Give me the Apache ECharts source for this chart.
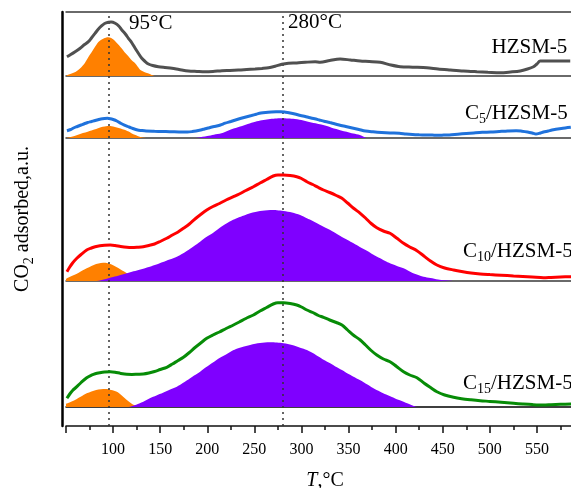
<!DOCTYPE html>
<html><head><meta charset="utf-8">
<script src="https://cdn.jsdelivr.net/npm/echarts@6/dist/echarts.min.js"></script>
<style>html,body{margin:0;padding:0;background:#fff}#c{width:571px;height:488px}</style>
</head><body><div id="c"></div>
<script>
// x range and ticks
const xMin = 50, xMax = 600, xStep = 50;
const peakTemps = [95, 280];
const panelNames = ['HZSM-5', 'C5/HZSM-5', 'C10/HZSM-5', 'C15/HZSM-5'];
// panel y ranges (signal units, arbitrary)
const panelMax = [64, 62, 143, 126];

// HZSM-5
const hzsmLine = [[51,19.3],[55,21.5],[59.7,24.3],[65,27.7],[69,31],[73.8,34.3],[77,38],[80.9,42.7],[84,46.5],[88,50.3],[91,52.5],[95,53.7],[98,54],[102.2,52.7],[106,50],[109.3,46],[113,42],[116.3,37.7],[120,33],[123.4,27.7],[127,22.5],[130.5,17.7],[134,14.5],[137.5,12],[142,10.5],[148.2,9.3],[155,8.5],[162.4,7.7],[170,6.5],[180,5],[189,4.6],[197.7,4.3],[206,4.6],[215.5,5.3],[224,5.6],[233,6],[242,6.4],[250.8,7],[258,7.6],[265,8.3],[272,9.8],[279.2,11.7],[286.2,12.7],[295,13],[304,13.7],[314.6,14.3],[319.9,13.7],[330,15.5],[341.1,17],[352,16],[362.4,15],[372,14.5],[383.6,13.7],[395,11],[404.9,9.3],[418,8.8],[433.2,8.3],[445,7],[458,6],[472,5],[486.3,4.3],[498,3.8],[511,3.3],[522,4],[532.3,5],[540,7],[546.4,9.3],[550,12],[553.5,15],[570,15],[585.4,15]];
const hzsmLow = [[50,0],[51.5,1],[56,2.5],[60,4],[63,6],[66,8.5],[70,13],[73.8,19],[78,25],[81,29.5],[84.4,34],[87,36],[90,37.5],[94.7,38.7],[98,38],[101,36],[104,33],[106.5,30.5],[109,27.7],[112,24],[116,20],[119,16.5],[123.4,12.7],[126,9.5],[129,6],[133,4],[137,2.7],[141,1],[144.6,0]];

// C5/HZSM-5
const c5Line = [[51,7.3],[55,8.5],[58,10],[62,11.5],[66,13],[70,14.5],[73,15.5],[77,16.5],[80,17.3],[84,18.3],[87,19],[91,19.5],[94,19.7],[97,19.3],[100,18.5],[104,17],[108,14.7],[112,12.8],[117,11],[121,9.5],[126,8],[130,7.5],[135,7],[144,6.7],[152,6.5],[160,6.3],[170,6.1],[179,6],[184,6.4],[188,7],[193,8],[197,9],[201,10],[205,11],[210,12],[214,13],[219,14.8],[225,16.5],[230,18],[236,19.7],[241,21],[247,22.5],[252,23.8],[257,25],[262,25.6],[268,26],[273,26.2],[278,26.3],[283,25.8],[288,25],[293,24],[299,22.5],[304,21.5],[308,20.5],[314,19.2],[319,18],[324,16.8],[330,15.5],[335,14.2],[340,13],[347,11.5],[354,10],[361,8.5],[368,7],[376,6.2],[385,5.5],[394,5],[404,4.7],[411,4],[418,3.5],[425,3.2],[432,3],[439,2.9],[445,2.8],[451,2.9],[457,3],[466,3.8],[475,4.5],[483,5.1],[492,5.7],[501,6],[510,6.5],[519,7],[528,7.3],[534,6.8],[540,6],[545,5],[549,4],[553,4.8],[557,6],[562,7],[566,8],[576,9.5],[586,10.7]];
const c5Low = [[50,0],[55,1],[59,2],[62,3],[65,4],[68,5],[73,6.3],[77,7.5],[80,8.5],[84,9.8],[87,10.8],[91,11.6],[94,12],[97,11.9],[100,11.5],[104,10.6],[108,9.5],[112,8.2],[115,7],[118,5.8],[120,4.5],[123,3.2],[126,2],[129,1.1],[133,0.3],[136,0]];
const c5High = [[186,0],[190,0.3],[195,1.2],[200,2],[207,3.3],[215,4.7],[220,6.5],[225,8.5],[231,10.3],[237,12],[243,14],[251,16.3],[258,17.8],[265,18.7],[272,19.4],[279,19.7],[286,19.5],[293,19],[298,18.2],[306,16.6],[315,14.7],[321,13.4],[327,12],[332,10.3],[337,9],[342,7.6],[348,6.3],[355,4.5],[362,3],[366,1.3],[369,0]];

// C10/HZSM-5
const c10Line = [[51,9.3],[54,14],[57,18],[61.5,22.7],[66,26.5],[72,31],[77,33],[81,34.3],[86,35.3],[91,35.8],[97,36],[102,35.5],[108,34.5],[114.6,33.7],[120,33.5],[126,33.8],[132,34.3],[138,35.5],[144,37],[150,39.5],[157,42.7],[163,46],[169,49],[174.7,52.7],[181,57],[187,62],[193,66.5],[199.5,71],[206,74.5],[213,77.5],[220,81],[227.8,84.3],[234,87],[241,90.5],[249,94.3],[256,98],[263,101.5],[270,105],[275,106],[281,106],[288,105.5],[295,104.3],[300,102.5],[305.8,99.3],[312,96.5],[318,93.5],[323.4,91],[330,88.5],[337,85.5],[343,82.7],[349,78],[355,73],[362.4,67.7],[368,63],[374,57.5],[380,53.3],[387,50],[394,47.7],[401,43],[408.4,37.7],[415,34],[422.6,30.3],[430,25],[437,20],[443.8,16],[452,13],[461.5,11],[470,9.5],[480,8],[489.8,7],[500,6.4],[512,5.8],[525.2,5],[535,4.5],[545,4],[557,3.3],[565,3.6],[575,4],[586.5,4.3]];
const c10Low = [[50,2],[51.5,3],[56,5],[61,7],[66,9.8],[72,12.7],[77,15],[82,17],[87,18],[92,18.3],[97,17],[103,14.3],[108,11.5],[114.6,7.7],[118,5],[122,3],[125,1.5],[128,0.5],[132,0]];
const c10High = [[83,0],[90,1.5],[100,4],[107,5.8],[114.6,7.7],[120,9.2],[127,11],[133,12.6],[139,14.3],[146,16.5],[153,19],[160,21.5],[167.7,24.3],[174,27.5],[180,31],[186,35],[192.4,39.3],[199,44],[206,48],[213,53],[220.8,57.7],[226,60.5],[232,63],[239,65.5],[245.5,67.7],[251,69],[256,70],[261,70.6],[266.8,71],[274,70.8],[281,70],[290,68.5],[298.6,66],[305.8,62.7],[312,60],[318,57],[324,54],[330.5,51],[336,48],[343,44],[349,41],[355.3,37.7],[362,34],[370,30],[376,26.5],[383.6,22.7],[390,19.5],[396,17],[402,14.8],[408.4,12.7],[413,10.5],[418,8],[424,6],[429.6,4.3],[437,3],[445,1.5],[452,0.7],[461.5,0]];

// C15/HZSM-5
const c15Line = [[51,8.7],[54,13],[57,16.5],[61.5,20.3],[66,24.5],[72,29.3],[77,31.8],[81,33.3],[86,34.3],[91,35],[97,35.3],[102,34.8],[108,33.6],[114.6,32.7],[120,32.6],[126,32.8],[132,33],[138,34],[144,35.5],[150,37.5],[157,39.7],[163,43],[169,46.5],[174.7,49.7],[181,54.5],[187,59.5],[193,64],[199.5,68.7],[206,72],[213,75],[220,78.5],[227.8,82],[234,85],[241,88.5],[249,92],[256,96],[263,99.5],[270,103],[275,104.3],[281,104.3],[288,103.5],[295,102],[300,100],[305.8,97],[312,94.5],[318,91.5],[323.4,89.7],[330,87],[337,84.5],[343,82],[349,77],[355,72],[362.4,67],[368,62],[374,56.5],[380,52],[387,48],[394,45.3],[401,40.5],[408.4,35.3],[415,32],[422.6,29.3],[430,24],[437,19.5],[443.8,15.3],[452,12],[461.5,9.7],[470,8.3],[480,7.2],[489.8,6.3],[500,5.6],[512,4.7],[525.2,3.7],[535,3],[545,2.4],[557,2],[565,2.3],[575,2.7],[586.5,3]];
const c15Low = [[50,3],[51.5,3.7],[56,5.5],[61,7.8],[66,10.5],[72,13.7],[77,15.6],[82,17],[87,17.7],[92,18],[98,17],[104,15.3],[108,12.5],[111,10],[114.6,7],[118,4.5],[121,2.5],[125,1],[130,0]];
const c15High = [[117,0],[122,1.5],[127,3.3],[133,5.8],[139,8.7],[146,11.5],[153,14.2],[160,17.2],[167.7,20.3],[174,24],[180,27.5],[186,31.5],[192.4,35.3],[199,40],[206,44.5],[213,49],[220.8,53],[226,56],[232,58.5],[239,60.5],[245.5,62],[251,63.3],[256,64],[261,64.5],[266.8,64.7],[274,64.4],[281,63.7],[290,62],[298.6,59.3],[305.8,57],[312,54],[318,50.5],[324,47],[330.5,43.7],[336,40.5],[343,37],[349,33.5],[355.3,30.3],[362,27],[370,22.5],[376,19],[383.6,15.3],[390,12.5],[396,10],[402,7.5],[408.4,5.3],[413,3.5],[418,1.5],[422.6,0]];

const lineColors = ['#505050', '#1f72dc', '#ff0000', '#078c07'];
const lowColor = '#ff8000';
const highColor = '#7f00ff';
const serif = 'Liberation Serif';

const lines = [hzsmLine, c5Line, c10Line, c15Line];
const lows = [hzsmLow, c5Low, c10Low, c15Low];
const highs = [null, c5High, c10High, c15High];

const panelTops = [12, 76, 138, 281];
const panelHeights = [64, 62, 143, 126];
const gLeft = 66, gWidth = 518;

const grids = panelTops.map((t, i) => ({left: gLeft, width: gWidth, top: t, height: panelHeights[i], outerBoundsMode: 'none', containLabel: false}));
grids.push({left: gLeft, width: gWidth, top: 12, height: 414, outerBoundsMode: 'none', containLabel: false});

const xAxes = [0,1,2,3].map(i => ({
  gridIndex: i, type: 'value', min: xMin, max: xMax,
  axisLine: {show: true, onZero: false, lineStyle: {color: i === 3 ? '#000' : '#3a3a3a', width: 1.5}},
  axisTick: {show: false}, axisLabel: {show: false}, splitLine: {show: false}
}));
xAxes.push({
  gridIndex: 4, type: 'value', min: xMin, max: xMax, interval: xStep, position: 'bottom',
  axisLine: {show: true, onZero: false, lineStyle: {color: '#111', width: 1.5}},
  axisTick: {show: true, length: 7, lineStyle: {color: '#111', width: 1.5}},
  minorTick: {show: true, splitNumber: 2, length: 4, lineStyle: {color: '#111', width: 1.5}},
  axisLabel: {show: true, showMinLabel: false, showMaxLabel: false, margin: 16, fontFamily: serif, fontSize: 16, color: '#000'},
  splitLine: {show: false},
  name: '{i|T},°C', nameLocation: 'middle', nameGap: 45,
  nameTextStyle: {fontFamily: serif, fontSize: 20, color: '#000', rich: {i: {fontFamily: serif, fontSize: 20, fontStyle: 'italic', color: '#000'}}}
});
xAxes.push({
  gridIndex: 4, type: 'value', min: xMin, max: xMax, position: 'top',
  axisLine: {show: true, onZero: false, lineStyle: {color: '#3a3a3a', width: 1.5}},
  axisTick: {show: false}, axisLabel: {show: false}, splitLine: {show: false}
});

const yAxes = [0,1,2,3].map(i => ({gridIndex: i, type: 'value', min: 0, max: panelMax[i], show: false}));
yAxes.push({
  gridIndex: 4, type: 'value', min: 0, max: 1, offset: 4,
  axisLine: {show: true, onZero: false, lineStyle: {color: '#000', width: 2.5}},
  axisTick: {show: false}, axisLabel: {show: false}, splitLine: {show: false},
  name: '{a|CO}{s|2}{a| adsorbed,a.u.}', nameLocation: 'middle', nameRotate: 90, nameGap: 26,
  nameTextStyle: {fontFamily: serif, fontSize: 20, color: '#000',
    rich: {a: {fontFamily: serif, fontSize: 20, color: '#000'}, s: {fontFamily: serif, fontSize: 14, color: '#000', padding: [12, 0, 0, 0]}}}
});

const series = [];
for (let i = 0; i < 4; i++) {
  series.push({type: 'line', xAxisIndex: i, yAxisIndex: i, data: lows[i], symbol: 'none', smooth: 0.3, silent: true,
    lineStyle: {width: 0}, areaStyle: {color: lowColor, opacity: 1}, z: 2});
  if (highs[i]) series.push({type: 'line', xAxisIndex: i, yAxisIndex: i, data: highs[i], symbol: 'none', smooth: 0.3, silent: true,
    lineStyle: {width: 0}, areaStyle: {color: highColor, opacity: 1}, z: 3});
  series.push({type: 'line', xAxisIndex: i, yAxisIndex: i, data: lines[i], symbol: 'none', smooth: 0.3, silent: true,
    lineStyle: {width: 3, color: lineColors[i]}, z: 5});
}
series.push({type: 'line', xAxisIndex: 4, yAxisIndex: 4, data: [], silent: true,
  markLine: {silent: true, symbol: 'none', label: {show: false},
    lineStyle: {type: [2, 4], color: '#333', width: 1.5},
    data: peakTemps.map(t => ({xAxis: t}))}, z: 6});

const txt = {fontFamily: serif, fontSize: 21, fill: '#000', color: '#000'};
const sub = {fontFamily: serif, fontSize: 14, fill: '#000', color: '#000', padding: [13, 0, 0, 0]};
function label(x, y, text) {
  return {type: 'text', x: x, y: y, z: 10, silent: true,
    style: {text: text, align: 'left', verticalAlign: 'middle', fontFamily: serif, fontSize: 21, fill: '#000', rich: {m: txt, s: sub}}};
}
const graphics = [
  label(129, 23, '{m|' + peakTemps[0] + '°C}'),
  label(288, 22, '{m|' + peakTemps[1] + '°C}'),
  label(491.5, 47.5, '{m|HZSM-5}'),
  label(465, 113, '{m|C}{s|5}{m|/HZSM-5}'),
  label(463, 251, '{m|C}{s|10}{m|/HZSM-5}'),
  label(463, 383, '{m|C}{s|15}{m|/HZSM-5}')
];

const chart = echarts.init(document.getElementById('c'), null, {renderer: 'canvas'});
chart.setOption({
  animation: false,
  backgroundColor: '#fff',
  grid: grids,
  xAxis: xAxes,
  yAxis: yAxes,
  series: series,
  graphic: graphics
});
</script>
</body></html>
